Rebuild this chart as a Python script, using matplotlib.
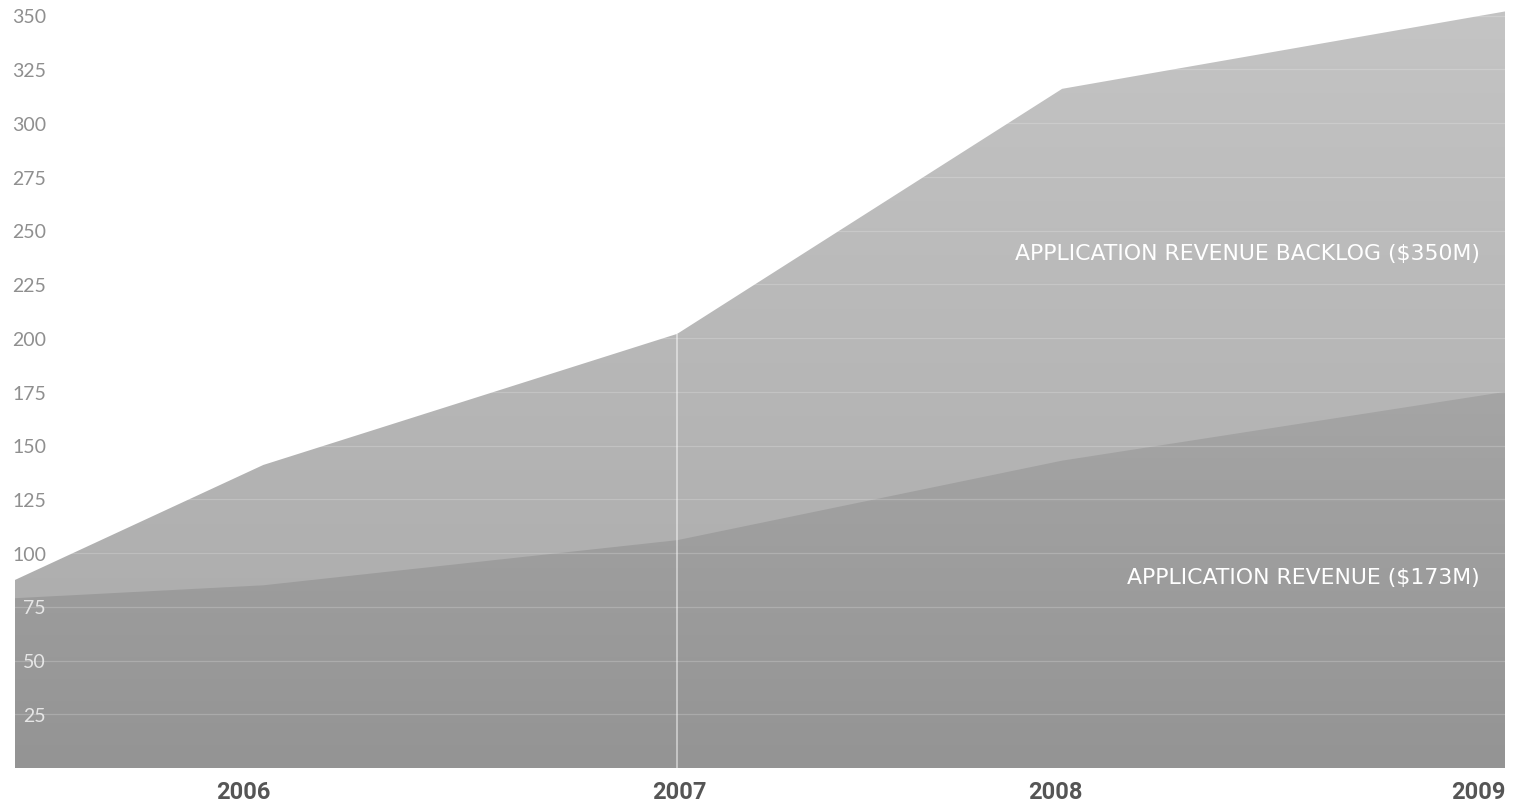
import numpy as np
import matplotlib
matplotlib.use("Agg")
import matplotlib.pyplot as plt
import matplotlib.transforms as mtransforms
from matplotlib.colors import LinearSegmentedColormap

# ---- data ----
x_pos = [2005.4, 2006.0, 2007.0, 2007.93, 2009.0]
backlog = [87.5, 141, 202, 316, 352]
revenue = [79, 85, 106, 143, 175]
year_ticks = [2006.0, 2007.0, 2007.93, 2009.0]
year_labels = ["2006", "2007", "2008", "2009"]
y_ticks = [25, 50, 75, 100, 125, 150, 175, 200, 225, 250, 275, 300, 325, 350]
label_backlog = "APPLICATION REVENUE BACKLOG ($350M)"
label_revenue = "APPLICATION REVENUE ($173M)"

W, H = 1522, 808
fig = plt.figure(figsize=(W / 100, H / 100), dpi=100)
ax = fig.add_axes([15 / W, 40 / H, (1505 - 15) / W, (768 - 5) / H])
ax.set_xlim(x_pos[0], x_pos[-1])
ax.set_ylim(0, 355)
ax.axis("off")


def gradient_fill(xs, ys, c_top, c_bot, z):
    poly = ax.fill_between(xs, 0, ys, color="none", lw=0, zorder=z)
    cmap = LinearSegmentedColormap.from_list("g", [c_bot, c_top])
    grad = np.linspace(0, 1, 256).reshape(-1, 1)
    im = ax.imshow(grad, cmap=cmap, aspect="auto", origin="lower",
                   extent=[x_pos[0], x_pos[-1], 0, max(ys)], zorder=z,
                   interpolation="bicubic")
    path = poly.get_paths()[0]
    im.set_clip_path(path, transform=ax.transData)
    return poly


gradient_fill(x_pos, backlog, "#c4c4c4", "#a8a8a8", 1)
gradient_fill(x_pos, revenue, "#a5a5a5", "#949494", 2)

# faint white gridlines
for v in y_ticks:
    ax.axhline(v, color="white", alpha=0.2, lw=0.9, zorder=3)

# vertical line at 2007
i07 = x_pos.index(2007.0)
ax.vlines(x_pos[i07], 0, backlog[i07], color="white", alpha=0.5, lw=1.3, zorder=4)

# y labels (right-aligned near the left edge, drawn over the areas)
trans = mtransforms.blended_transform_factory(fig.transFigure, ax.transData)
for v in y_ticks:
    inside = v < backlog[0]
    ax.text(46 / W, v - 1.0, str(v), transform=trans, ha="right", va="center",
            fontsize=14, family="Lato", fontweight="normal",
            color="#e6e6e6" if inside else "#8f8f8f", zorder=5)

# x labels
label_dx_px = [-20, 2, -7, 0]
for i, (xt, lab) in enumerate(zip(year_ticks, year_labels)):
    last = i == len(year_ticks) - 1
    off = mtransforms.offset_copy(ax.transData, fig=fig, x=label_dx_px[i] * 0.72,
                                  y=0, units="points")
    ax.text(xt, -6.0, lab, transform=off,
            ha="right" if last else "center", va="top",
            fontsize=17, family="Roboto", fontweight="bold",
            color="#555555", clip_on=False)

# series labels
ax.text(2008.94, 239, label_backlog, ha="right", va="center", fontsize=15.8,
        family="DejaVu Sans", color="white", zorder=6)
ax.text(2008.94, 88.5, label_revenue, ha="right", va="center", fontsize=15.8,
        family="DejaVu Sans", color="white", zorder=6)

fig.savefig("out.png", dpi=100)
